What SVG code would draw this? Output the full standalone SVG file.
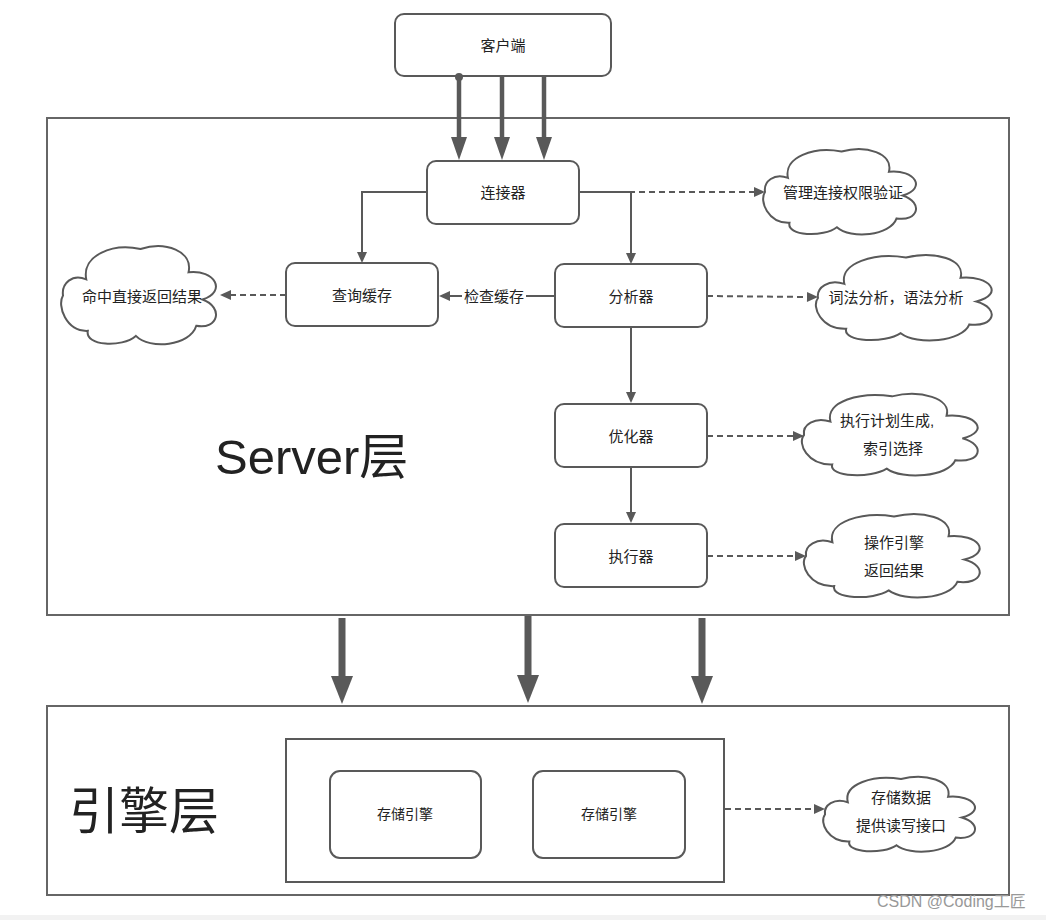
<svg xmlns="http://www.w3.org/2000/svg" width="1046" height="920" viewBox="0 0 1046 920">
<style>
text{font-family:"Liberation Sans","Noto Sans CJK SC",sans-serif;fill:#222;}
.lbl{font-size:15px;text-anchor:middle;dominant-baseline:central;}
.small{font-size:14px;text-anchor:middle;dominant-baseline:central;}
.node{fill:#fff;stroke:#595959;stroke-width:2;}
.frame{fill:none;stroke:#666;stroke-width:2;}
.cloud{fill:#fff;stroke:#595959;stroke-width:2;}
.ln{fill:none;stroke:#595959;stroke-width:2;}
.dash{fill:none;stroke:#595959;stroke-width:2;stroke-dasharray:6 4;}
.thick{fill:none;stroke:#595959;stroke-width:4.5;}
.big{fill:none;stroke:#595959;stroke-width:7;}
</style>
<defs>
<marker id="a" markerUnits="userSpaceOnUse" markerWidth="11" markerHeight="10" refX="0" refY="5" orient="auto" overflow="visible">
<path d="M0,0 L11,5 L0,10 Z" fill="#595959"/>
</marker>
<marker id="b" markerUnits="userSpaceOnUse" markerWidth="23" markerHeight="16" refX="0" refY="8" orient="auto" overflow="visible">
<path d="M0,0 L23,8 L0,16 Z" fill="#595959"/>
</marker>
<marker id="c" markerUnits="userSpaceOnUse" markerWidth="28" markerHeight="22" refX="0" refY="11" orient="auto" overflow="visible">
<path d="M0,0 L28,11 L0,22 Z" fill="#595959"/>
</marker>
<path id="cl" vector-effect="non-scaling-stroke" d="M0,50 C-1,38 6,28 15,34 C12,10 32,-2 50,4 C66,-4 84,6 81,27 C98,24 106,46 90,54 C104,62 100,84 86,80 C82,100 56,104 47,90 C38,102 14,100 16,85 C2,86 -4,60 0,50 Z"/>
</defs>

<!-- frames -->
<g id="server-layer">
<rect class="frame" x="47" y="118" width="962" height="497"/>
<text x="215" y="474" style="font-size:49px;">Server层</text>
</g>
<g id="engine-layer">
<rect class="frame" x="47" y="706" width="962" height="189"/>
<text x="69" y="829" style="font-size:50px;">引擎层</text>
</g>

<!-- connectors -->
<g id="connectors">
<line class="thick" x1="459" y1="77" x2="459" y2="137" marker-end="url(#b)"/>
<line class="thick" x1="502" y1="77" x2="502" y2="137" marker-end="url(#b)"/>
<line class="thick" x1="544" y1="77" x2="544" y2="137" marker-end="url(#b)"/>
<polyline class="ln" points="427,192 362,192 362,252" marker-end="url(#a)"/>
<polyline class="ln" points="579,192 631,192 631,253" marker-end="url(#a)"/>
<line class="dash" x1="579" y1="192" x2="754" y2="192" marker-end="url(#a)"/>
<line class="ln" x1="555" y1="296" x2="450" y2="296" marker-end="url(#a)"/>
<rect x="462" y="285" width="64" height="22" fill="#fff"/>
<text class="lbl" x="494" y="296">检查缓存</text>
<line class="dash" x1="286" y1="295" x2="231" y2="295" marker-end="url(#a)"/>
<line class="dash" x1="707" y1="296" x2="807" y2="297" marker-end="url(#a)"/>
<line class="ln" x1="631" y1="327" x2="631" y2="392" marker-end="url(#a)"/>
<line class="dash" x1="707" y1="436" x2="793" y2="436" marker-end="url(#a)"/>
<line class="ln" x1="631" y1="467" x2="631" y2="512" marker-end="url(#a)"/>
<line class="dash" x1="707" y1="556" x2="795" y2="556" marker-end="url(#a)"/>
<line class="big" x1="342" y1="618" x2="342" y2="676" marker-end="url(#c)"/>
<line class="big" x1="528" y1="616" x2="528" y2="675" marker-end="url(#c)"/>
<line class="big" x1="702" y1="618" x2="702" y2="676" marker-end="url(#c)"/>
<line class="dash" x1="725" y1="809" x2="814" y2="809" marker-end="url(#a)"/>
</g>

<!-- nodes -->
<g id="client">
<rect class="node" x="395" y="14" width="216" height="62" rx="9"/>
<text class="lbl" x="503" y="45">客户端</text>
<circle cx="459" cy="77" r="4" fill="#595959"/>
</g>
<g id="connector">
<rect class="node" x="427" y="161" width="152" height="63" rx="9"/>
<text class="lbl" x="503" y="192">连接器</text>
</g>
<g id="query-cache">
<rect class="node" x="286" y="263" width="152" height="63" rx="9"/>
<text class="lbl" x="362" y="295">查询缓存</text>
</g>
<g id="analyzer">
<rect class="node" x="555" y="264" width="152" height="63" rx="9"/>
<text class="lbl" x="631" y="296">分析器</text>
</g>
<g id="optimizer">
<rect class="node" x="555" y="404" width="152" height="63" rx="9"/>
<text class="lbl" x="631" y="436">优化器</text>
</g>
<g id="executor">
<rect class="node" x="555" y="524" width="152" height="63" rx="9"/>
<text class="lbl" x="631" y="556">执行器</text>
</g>
<g id="engines">
<rect class="frame" x="286" y="739" width="438" height="143" style="stroke:#595959"/>
</g>
<g id="engine1">
<rect class="node" x="330" y="771" width="151" height="87" rx="10"/>
<text class="small" x="405" y="814">存储引擎</text>
</g>
<g id="engine2">
<rect class="node" x="533" y="771" width="152" height="87" rx="10"/>
<text class="small" x="609" y="814">存储引擎</text>
</g>

<!-- clouds -->
<g id="cloud-auth">
<use href="#cl" class="cloud" transform="translate(765,148) scale(1.53,0.88)"/>
<text class="lbl" x="843" y="192">管理连接权限验证</text>
</g>
<g id="cloud-hit">
<use href="#cl" class="cloud" transform="translate(63,245) scale(1.55,1.01)"/>
<text class="lbl" x="142" y="296">命中直接返回结果</text>
</g>
<g id="cloud-parse">
<use href="#cl" class="cloud" transform="translate(818,254) scale(1.76,0.88)"/>
<text class="lbl" x="896" y="297">词法分析，语法分析</text>
</g>
<g id="cloud-plan">
<use href="#cl" class="cloud" transform="translate(804,393) scale(1.76,0.84)"/>
<text class="lbl" x="887" y="420">执行计划生成,</text>
<text class="lbl" x="893" y="448">索引选择</text>
</g>
<g id="cloud-exec">
<use href="#cl" class="cloud" transform="translate(806,513) scale(1.76,0.86)"/>
<text class="lbl" x="894" y="542">操作引擎</text>
<text class="lbl" x="894" y="570">返回结果</text>
</g>
<g id="cloud-store">
<use href="#cl" class="cloud" transform="translate(825,776) scale(1.52,0.77)"/>
<text class="lbl" x="901" y="797">存储数据</text>
<text class="lbl" x="901" y="825">提供读写接口</text>
</g>

<text x="877" y="907" style="font-size:16px;fill:#999;">CSDN @Coding工匠</text>
<rect x="0" y="915" width="1046" height="5" fill="#f2f2f2"/>
</svg>
